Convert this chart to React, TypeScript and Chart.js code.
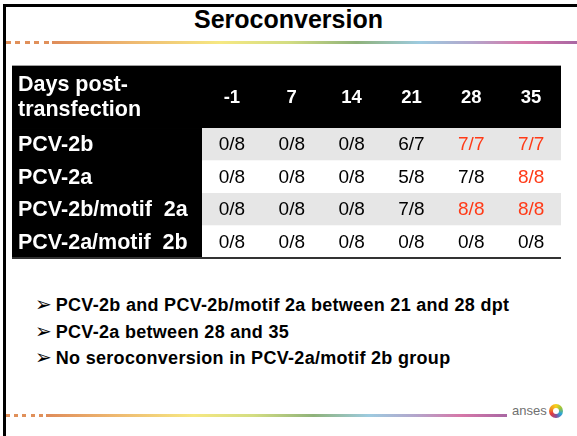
import React, { useEffect, useRef } from "react";
import { Chart, registerables } from "chart.js";

Chart.register(...registerables);

// ---- data ----
const days = ["-1", "7", "14", "21", "28", "35"];
const groups = ["PCV-2b", "PCV-2a", "PCV-2b/motif  2a", "PCV-2a/motif  2b"];
const pcv2bPos = [0, 0, 0, 6, 7, 7];
const pcv2bTot = [8, 8, 8, 7, 7, 7];
const pcv2aPos = [0, 0, 0, 5, 7, 8];
const pcv2aTot = [8, 8, 8, 8, 8, 8];
const pcv2bMotif2aPos = [0, 0, 0, 7, 8, 8];
const pcv2bMotif2aTot = [8, 8, 8, 8, 8, 8];
const pcv2aMotif2bPos = [0, 0, 0, 0, 0, 0];
const pcv2aMotif2bTot = [8, 8, 8, 8, 8, 8];
const positives = [pcv2bPos, pcv2aPos, pcv2bMotif2aPos, pcv2aMotif2bPos];
const totals = [pcv2bTot, pcv2aTot, pcv2bMotif2aTot, pcv2aMotif2bTot];
const headerLines = ["Days post-", "transfection"];
const bullets = [
  "PCV-2b and PCV-2b/motif 2a between 21 and 28 dpt",
  "PCV-2a between 28 and 35",
  "No seroconversion in PCV-2a/motif 2b group",
];

const FONT = "'Liberation Sans', Arial, Helvetica, sans-serif";
const X_MIN = -3.676;
const X_MAX = 5.5;
const Y_MIN = -2.408;
const Y_MAX = 3.5;

const tablePlugin = {
  id: "seroTable",
  afterDatasetsDraw(chart: any) {
    const { ctx, scales } = chart;
    const x = scales.x;
    const y = scales.y;
    const left = x.getPixelForValue(X_MIN);
    const right = x.getPixelForValue(X_MAX);
    const split = x.getPixelForValue(-0.5);
    const top = y.getPixelForValue(Y_MIN);
    const headBottom = y.getPixelForValue(-0.5);
    const bottom = y.getPixelForValue(Y_MAX);
    ctx.save();
    ctx.fillStyle = "#000";
    ctx.fillRect(left, top, right - left, headBottom - top);
    ctx.fillRect(left, headBottom, split - left, bottom - headBottom);
    groups.forEach((g, i) => {
      const r0 = y.getPixelForValue(i - 0.5);
      const r1 = y.getPixelForValue(i + 0.5);
      ctx.fillStyle = i % 2 === 0 ? "#e6e6e6" : "#ffffff";
      ctx.fillRect(split, r0, right - split, r1 - r0);
      ctx.fillStyle = "#fff";
      ctx.font = `bold 21.5px ${FONT}`;
      ctx.textAlign = "left";
      ctx.textBaseline = "middle";
      ctx.fillText(g, left + 6, (r0 + r1) / 2 + 1);
      days.forEach((d, j) => {
        const p = positives[i][j];
        const t = totals[i][j];
        ctx.fillStyle = p > 0 && p === t ? "#ff3a17" : "#000";
        ctx.font = `19px ${FONT}`;
        ctx.textAlign = "center";
        ctx.fillText(`${p}/${t}`, x.getPixelForValue(j), (r0 + r1) / 2 + 1);
      });
    });
    const hc = (top + headBottom) / 2;
    ctx.fillStyle = "#fff";
    ctx.font = `bold 21.5px ${FONT}`;
    ctx.textAlign = "left";
    ctx.textBaseline = "middle";
    ctx.fillText(headerLines[0], left + 6, hc - 12);
    ctx.fillText(headerLines[1], left + 6, hc + 13);
    ctx.font = `bold 18.5px ${FONT}`;
    ctx.textAlign = "center";
    days.forEach((d, j) => {
      ctx.fillText(d, x.getPixelForValue(j), hc + 1);
    });
    ctx.fillStyle = "#a0a0a0";
    ctx.fillRect(left, top - 1, right - left, 1);
    ctx.fillStyle = "#333";
    ctx.fillRect(left, bottom - 1, right - left, 2);
    ctx.restore();
  },
};

function TableChart() {
  const ref = useRef<HTMLCanvasElement | null>(null);
  useEffect(() => {
    if (!ref.current) return;
    const pts: { x: number; y: number }[] = [];
    groups.forEach((g, i) => days.forEach((d, j) => pts.push({ x: j, y: i })));
    const chart = new Chart(ref.current, {
      type: "scatter",
      data: {
        datasets: [{ data: pts, pointRadius: 0, showLine: false }],
      },
      options: {
        animation: false,
        responsive: false,
        maintainAspectRatio: false,
        layout: { padding: { top: 2, bottom: 2, left: 0, right: 0 } },
        plugins: { legend: { display: false }, tooltip: { enabled: false } },
        events: [],
        scales: {
          x: { type: "linear", min: X_MIN, max: X_MAX, display: false },
          y: { type: "linear", min: Y_MIN, max: Y_MAX, reverse: true, display: false },
        },
      },
      plugins: [tablePlugin],
    });
    return () => chart.destroy();
  }, []);
  return (
    <canvas
      ref={ref}
      width={549}
      height={196}
      style={{ position: "absolute", left: 12, top: 64, width: 549, height: 196 }}
    />
  );
}

const rainbow =
  "linear-gradient(to right, #df8c5a 0%, #eeb870 15%, #f6e882 32%, #d3dd82 45%, #8fb27a 58%, #9dcbe0 70%, #b3a6cc 80%, #d677a8 90%, #a967a3 100%)";

function Rule({ top, dashEnd, gradStart, gradEnd, period }: any) {
  return (
    <>
      <div
        style={{
          position: "absolute",
          left: 6,
          top,
          width: dashEnd - 6,
          height: 3,
          background: `repeating-linear-gradient(to right, #e0905a 0px, #e0905a ${period * 0.5}px, transparent ${period * 0.5}px, transparent ${period}px)`,
        }}
      />
      <div
        style={{
          position: "absolute",
          left: gradStart,
          top,
          width: gradEnd - gradStart,
          height: 3,
          background: rainbow,
        }}
      />
    </>
  );
}

export default function App() {
  return (
    <div
      style={{
        position: "fixed",
        left: 0,
        top: 0,
        width: 577,
        height: 436,
        background: "#fff",
        overflow: "hidden",
        fontFamily: FONT,
      }}
    >
      <div
        style={{
          position: "absolute",
          left: 3,
          top: 4,
          width: 580,
          height: 440,
          borderTop: "3px solid #000",
          borderLeft: "3px solid #000",
        }}
      />
      <div
        style={{
          position: "absolute",
          left: 0,
          width: 577,
          top: 4,
          textAlign: "center",
          fontWeight: "bold",
          fontSize: 25,
          lineHeight: "30px",
          color: "#000",
        }}
      >
        Seroconversion
      </div>
      <Rule top={41} dashEnd={49} gradStart={52} gradEnd={577} period={9.5} />
      <TableChart />
      {bullets.map((b, i) => (
        <div
          key={i}
          style={{
            position: "absolute",
            left: 35,
            top: 293 + i * 26.5,
            fontWeight: "bold",
            fontSize: 18,
            letterSpacing: 0.3,
            lineHeight: "22px",
            color: "#000",
            whiteSpace: "nowrap",
          }}
        >
          <span
            style={{
              fontWeight: "bold",
              fontFamily: "'DejaVu Sans', sans-serif",
              fontSize: 20,
              letterSpacing: 0,
              marginRight: 4,
              position: "relative",
              top: 0,
            }}
          >
            ➢
          </span>
          {b}
        </div>
      ))}
      <Rule top={414} dashEnd={43} gradStart={46} gradEnd={507} period={8.2} />
      <div
        style={{
          position: "absolute",
          left: 512,
          top: 403,
          fontSize: 13,
          lineHeight: "16px",
          color: "#707070",
        }}
      >
        anses
      </div>
      <div
        style={{
          position: "absolute",
          left: 549,
          top: 404,
          width: 14,
          height: 14,
          borderRadius: "50%",
          background:
            "conic-gradient(#f7d21a 0deg, #9ac43c 60deg, #27a6d8 120deg, #8a4d9c 180deg, #e63b3b 240deg, #f39a1f 300deg, #f7d21a 360deg)",
        }}
      >
        <div
          style={{
            position: "absolute",
            left: 4,
            top: 4,
            width: 6,
            height: 6,
            borderRadius: "50%",
            background: "#fff",
          }}
        />
      </div>
    </div>
  );
}
